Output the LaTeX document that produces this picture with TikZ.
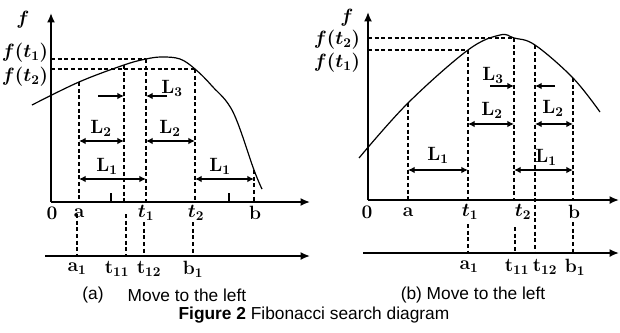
\documentclass[tikz,border=0pt]{standalone}
\usepackage{fontspec}
\setsansfont{Liberation Sans}
\usetikzlibrary{arrows.meta}

\begin{document}
\begin{tikzpicture}[x=0.75pt, y=-0.75pt,
    axis/.style={line width=1.3pt, -{Latex[length=7pt,width=6pt]}},
    guide/.style={line width=0.9pt, dash pattern=on 3pt off 2pt},
    span/.style={line width=1.1pt, {Latex[length=5pt,width=5pt]}-{Latex[length=5pt,width=5pt]}},
    push/.style={line width=1.1pt, -{Latex[length=5pt,width=5pt]}},
    curve/.style={line width=0.9pt},
    lbl/.style={font=\fontsize{14.4}{16}\selectfont\boldmath\bfseries, inner sep=1pt},
    caption/.style={font=\sffamily\fontsize{13}{15}\selectfont, inner sep=1pt},
]
\useasboundingbox (0,0) rectangle (620,332);

% ---------- (a) left panel ----------
\coordinate (Lo) at (51,202);
\coordinate (Ly) at (51,13);
\coordinate (Lx) at (310,202);
\coordinate (Ls) at (45,256);
\coordinate (Le) at (310,256);
\draw[axis] (Lo) -- (Ly);
\draw[axis] (Lo) -- (Lx);
\draw[axis] (Ls) -- (Le);

% points on the curve
\coordinate (La) at (79,82);
\coordinate (Lt11) at (124,65);
\coordinate (Lt1) at (146,59);
\coordinate (Lt2) at (195,69);
\coordinate (Lb) at (254,170);
\draw[curve] plot[smooth, tension=0.6] coordinates {(32,105) (La) (Lt11) (Lt1) (162,57) (180,59) (Lt2) (212,86) (233,112) (Lb) (262,189)};

% dashed guides
\draw[guide] (Lo |- Lt1) -- (Lt1);
\draw[guide] (Lo |- Lt2) -- (Lt2);
\foreach \p in {a,t11,t1,t2,b}
  \draw[guide] (L\p) -- (L\p |- Lo);
\coordinate (La1) at (77,214);
\coordinate (Lt11b) at (126,214);
\coordinate (Lt12) at (144,222);
\coordinate (Lb1) at (193,222);
\foreach \p in {a1,t11b,t12,b1}
  \draw[guide] (L\p) -- (L\p |- Ls);

% ticks
\coordinate (Lk1) at (111,193);
\coordinate (Lk2) at (229,193);
\draw[line width=0.9pt] (Lk1) -- (Lk1 |- Lo);
\draw[line width=0.9pt] (Lk2) -- (Lk2 |- Lo);

% interval arrows
\coordinate (Lr3) at (0,96);
\coordinate (Lr2) at (0,141);
\coordinate (Lr1) at (0,179);
\coordinate (Lp1) at (98,96);
\coordinate (Lp2) at (167,96);
\draw[push] (Lp1) -- (Lt11 |- Lr3);
\draw[push] (Lp2) -- (Lt1 |- Lr3);
\draw[span] (La |- Lr2) -- (Lt11 |- Lr2);
\draw[span] (Lt1 |- Lr2) -- (Lt2 |- Lr2);
\draw[span] (La |- Lr1) -- (Lt1 |- Lr1);
\draw[span] (Lt2 |- Lr1) -- (Lb |- Lr1);

% labels
\node[lbl] (Lf) at (23,20) {$f$};
\node[lbl] (Lft1) at (25,53) {$f(t_1)$};
\node[lbl] (Lft2) at (25,77) {$f(t_2)$};
\node[lbl] (LL3) at (172,88) {$\mathbf{L}_3$};
\node[lbl] (LL2a) at (101,128) {$\mathbf{L}_2$};
\node[lbl] (LL2b) at (170,128) {$\mathbf{L}_2$};
\node[lbl] (LL1a) at (107,166) {$\mathbf{L}_1$};
\node[lbl] (LL1b) at (220,166) {$\mathbf{L}_1$};
\node[lbl] (Lzero) at (52,213) {0};
\node[lbl] (Lna) at (79,213) {a};
\node[lbl] (Lnt1) at (146,213) {$t_1$};
\node[lbl] (Lnt2) at (196,213) {$t_2$};
\node[lbl] (Lnb) at (255,213) {b};
\node[lbl] (Lna1) at (77,269) {$\mathbf{a}_1$};
\node[lbl] (Lnt11) at (117,269) {$\mathbf{t}_{11}$};
\node[lbl] (Lnt12) at (149,269) {$\mathbf{t}_{12}$};
\node[lbl] (Lnb1) at (193,269) {$\mathbf{b}_1$};

% ---------- (b) right panel ----------
\coordinate (Ro) at (368,200);
\coordinate (Ry) at (368,12);
\coordinate (Rx) at (619,200);
\coordinate (Rs) at (363,253);
\coordinate (Re) at (619,253);
\draw[axis] (Ro) -- (Ry);
\draw[axis] (Ro) -- (Rx);
\draw[axis] (Rs) -- (Re);

% points on the curve
\coordinate (Ra) at (408,103);
\coordinate (Rt1) at (468,50);
\coordinate (Rt2) at (514,38);
\coordinate (Rt12) at (535,45);
\coordinate (Rb) at (573,78);
\draw[curve] plot[smooth, tension=0.6] coordinates {(359,158) (Ra) (Rt1) (500,35) (Rt2) (Rt12) (Rb) (600,112)};

% dashed guides
\draw[guide] (Ro |- Rt2) -- (Rt2);
\draw[guide] (Ro |- Rt1) -- (Rt1);
\foreach \p in {a,t1,t2,b}
  \draw[guide] (R\p) -- (R\p |- Ro);
\draw[guide] (Rt12) -- (Rt12 |- Rs);
\coordinate (Ra1) at (468,224);
\coordinate (Rt11) at (515,227);
\coordinate (Rb1) at (573,222);
\foreach \p in {a1,t11,b1}
  \draw[guide] (R\p) -- (R\p |- Rs);

% interval arrows
\coordinate (Rr3) at (0,86);
\coordinate (Rr2) at (0,124);
\coordinate (Rr1) at (0,170);
\coordinate (Rp1) at (490,86);
\coordinate (Rp2) at (555,86);
\draw[push] (Rp1) -- (Rt2 |- Rr3);
\draw[push] (Rp2) -- (Rt12 |- Rr3);
\draw[span] (Rt1 |- Rr2) -- (Rt2 |- Rr2);
\draw[span] (Rt12 |- Rr2) -- (Rb |- Rr2);
\draw[span] (Ra |- Rr1) -- (Rt1 |- Rr1);
\draw[span] (Rt2 |- Rr1) -- (Rb |- Rr1);

% labels
\node[lbl] (Rf) at (347,18) {$f$};
\node[lbl] (Rft2) at (337,40) {$f(t_2)$};
\node[lbl] (Rft1) at (337,63) {$f(t_1)$};
\node[lbl] (RL3) at (493,75) {$\mathbf{L}_3$};
\node[lbl] (RL2a) at (492,110) {$\mathbf{L}_2$};
\node[lbl] (RL2b) at (553,108) {$\mathbf{L}_2$};
\node[lbl] (RL1a) at (438,155) {$\mathbf{L}_1$};
\node[lbl] (RL1b) at (546,157) {$\mathbf{L}_1$};
\node[lbl] (Rzero) at (367,212) {0};
\node[lbl] (Rna) at (408,212) {a};
\node[lbl] (Rnt1) at (470,212) {$t_1$};
\node[lbl] (Rnt2) at (523,212) {$t_2$};
\node[lbl] (Rnb) at (574,212) {b};
\node[lbl] (Rna1) at (469,267) {$\mathbf{a}_1$};
\node[lbl] (Rnt11) at (517,267) {$\mathbf{t}_{11}$};
\node[lbl] (Rnt12) at (545,267) {$\mathbf{t}_{12}$};
\node[lbl] (Rnb1) at (575,267) {$\mathbf{b}_1$};

% captions
\node[caption] (capa) at (93,295) {(a)};
\node[caption] (capam) at (187,295) {Move to the left};
\node[caption] (capb) at (473,295) {(b) Move to the left};
\node[caption] (fig) at (314,315) {\textbf{Figure 2} Fibonacci search diagram};

\end{tikzpicture}
\end{document}
